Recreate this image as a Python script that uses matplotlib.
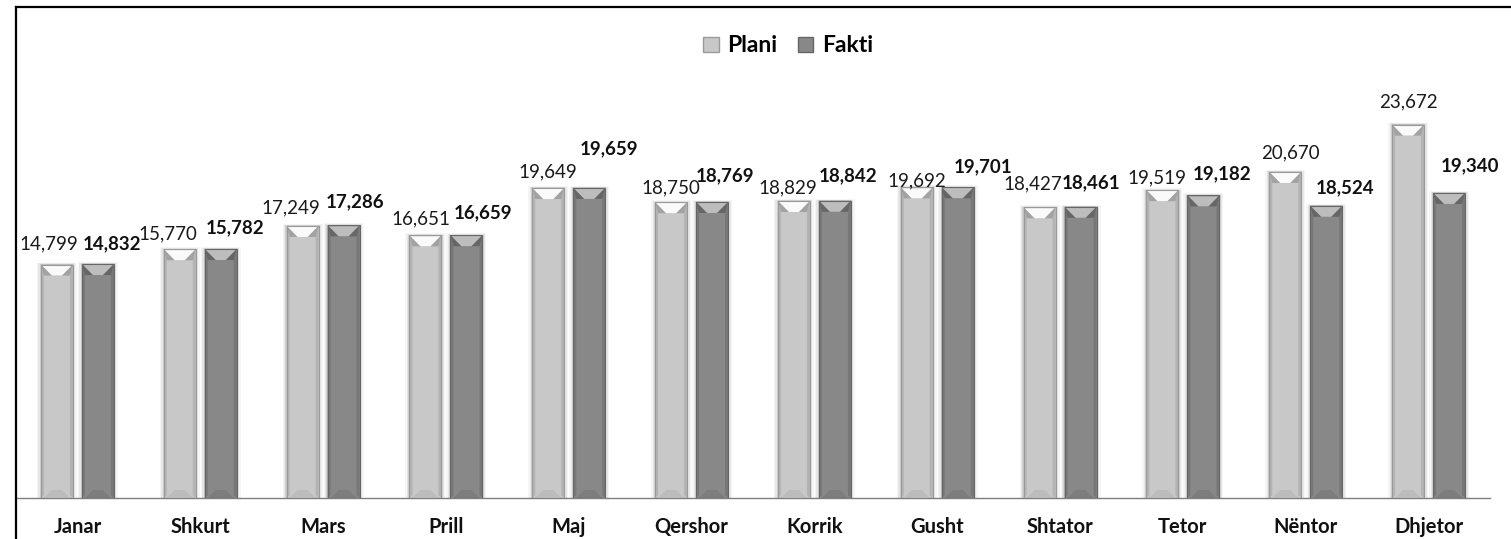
import matplotlib.pyplot as plt
import numpy as np
from matplotlib.patches import Polygon, Rectangle, Patch
from matplotlib.lines import Line2D

plt.rcParams['font.family'] = ['Lato', 'DejaVu Sans']

months = ['Janar', 'Shkurt', 'Mars', 'Prill', 'Maj', 'Qershor',
          'Korrik', 'Gusht', 'Shtator', 'Tetor', 'Nëntor', 'Dhjetor']
plani = [14799, 15770, 17249, 16651, 19649, 18750,
         18829, 19692, 18427, 19519, 20670, 23672]
fakti = [14832, 15782, 17286, 16659, 19659, 18769,
         18842, 19701, 18461, 19182, 18524, 19340]

# label nudges in pixels (dx from bar centre, dy of label centre above bar top)
plani_off = [(-8, 22), (-12, 16), (-12, 19), (-4, 17), (0, 17), (0, 15),
             (-6, 14), (0, 8), (-7, 24), (-5, 13), (5, 20), (0, 24)]
fakti_off = [(14, 21), (14, 22), (11, 25), (17, 23), (20, 40), (13, 27),
             (13, 26), (25, 22), (10, 25), (19, 23), (19, 19), (21, 28)]

W, H, DPI = 1511, 539, 100
fig = plt.figure(figsize=(W / DPI, H / DPI), dpi=DPI)
ax = fig.add_axes([16 / W, 1 - 498 / H, (1490 - 16) / W, (498 - 7) / H])
ax.set_xlim(-0.5, 11.5)
ax.set_ylim(0, 31130)

sx = 12 / (1490 - 16)        # data x per pixel
sy = 31130 / (498 - 7)       # data y per pixel

x = np.arange(len(months))
bw = 32 * sx
off = 20.5 * sx

styles = {
    'plani': dict(body='#c8c8c8', top='#fafafa', topside='#a2a2a2',
                  side='#b3b3b3', bottom='#bcbcbc', edge='#9a9a9a'),
    'fakti': dict(body='#888888', top='#bdbdbd', topside='#666666',
                  side='#777777', bottom='#7d7d7d', edge='#666666'),
}


def bevel(bars, st):
    for r in bars:
        x0, w, h = r.get_x(), r.get_width(), r.get_height()
        x1 = x0 + w
        # soft shadow
        for k, a in [(4, 0.04), (2.5, 0.06), (1.2, 0.09)]:
            ax.add_patch(Rectangle((x0 - k * sx, 0), w + 2 * k * sx, h + k * sy * 0.5,
                                   facecolor='#000000', alpha=a, lw=0, zorder=1))
        bh = 11 * sy
        bi = 11 * sx
        s = 3 * sx
        # side facets
        ax.add_patch(Polygon([(x0, 0), (x0 + s, 3 * sy), (x0 + s, h - bh), (x0, h)],
                             closed=True, facecolor=st['side'], lw=0, zorder=3))
        ax.add_patch(Polygon([(x1, 0), (x1 - s, 3 * sy), (x1 - s, h - bh), (x1, h)],
                             closed=True, facecolor=st['side'], lw=0, zorder=3))
        # top chevron
        ax.add_patch(Polygon([(x0, h), (x1, h), (x1 - s, h - bh), (x0 + s, h - bh)],
                             closed=True, facecolor=st['topside'], lw=0, zorder=3))
        ax.add_patch(Polygon([(x0 + 1 * sx, h - 0.8 * sy), (x1 - 1 * sx, h - 0.8 * sy),
                              (x1 - bi, h - bh), (x0 + bi, h - bh)],
                             closed=True, facecolor=st['top'], lw=0, zorder=4))
        # bottom facet
        ax.add_patch(Polygon([(x0 + s, 0), (x1 - s, 0), (x1 - bi, 8 * sy), (x0 + bi, 8 * sy)],
                             closed=True, facecolor=st['bottom'], lw=0, zorder=3))
        ax.add_patch(Rectangle((x0, 0), w, h, facecolor='none', edgecolor=st['edge'],
                               lw=0.8, zorder=5))


b1 = ax.bar(x - off, plani, bw, color=styles['plani']['body'], zorder=2)
b2 = ax.bar(x + off, fakti, bw, color=styles['fakti']['body'], zorder=2)
bevel(b1, styles['plani'])
bevel(b2, styles['fakti'])

for i in range(len(months)):
    dx, dy = plani_off[i]
    ax.annotate(f'{plani[i]:,}', (x[i] - off, plani[i]), xytext=(dx, dy - 6.5),
                textcoords='offset pixels', ha='center', va='baseline',
                fontsize=13.5, color='#1a1a1a', zorder=6)
    dx, dy = fakti_off[i]
    ax.annotate(f'{fakti[i]:,}', (x[i] + off, fakti[i]), xytext=(dx, dy - 6.5),
                textcoords='offset pixels', ha='center', va='baseline',
                fontsize=13.5, fontweight='bold', color='#111111', zorder=6)

ax.set_xticks(x)
ax.set_xticklabels(months, fontweight='bold', fontsize=14.5, color='#111111')
ax.tick_params(axis='x', length=0, pad=14)
ax.set_yticks([])
for sp in ['left', 'top', 'right']:
    ax.spines[sp].set_visible(False)
ax.spines['bottom'].set_color('#7f7f7f')
ax.spines['bottom'].set_linewidth(1.0)
ax.patch.set_visible(False)

handles = [Patch(facecolor='#c8c8c8', edgecolor='#9a9a9a', label='Plani'),
           Patch(facecolor='#888888', edgecolor='#666666', label='Fakti')]
fig.legend(handles=handles, loc='center', bbox_to_anchor=(788 / W, 1 - 46 / H),
           ncol=2, frameon=False, prop={'weight': 'bold', 'size': 16.5},
           handlelength=0.68, handleheight=0.63, handletextpad=0.36,
           columnspacing=0.9, borderaxespad=0)

# chart area border (left and top edges visible)
fig.add_artist(Line2D([16 / W, 16 / W], [0, 1 - 7 / H], color='black', lw=1.6,
                      transform=fig.transFigure))
fig.add_artist(Line2D([16 / W, 1], [1 - 7 / H, 1 - 7 / H], color='black', lw=1.6,
                      transform=fig.transFigure))

fig.savefig('out.png', dpi=DPI)
